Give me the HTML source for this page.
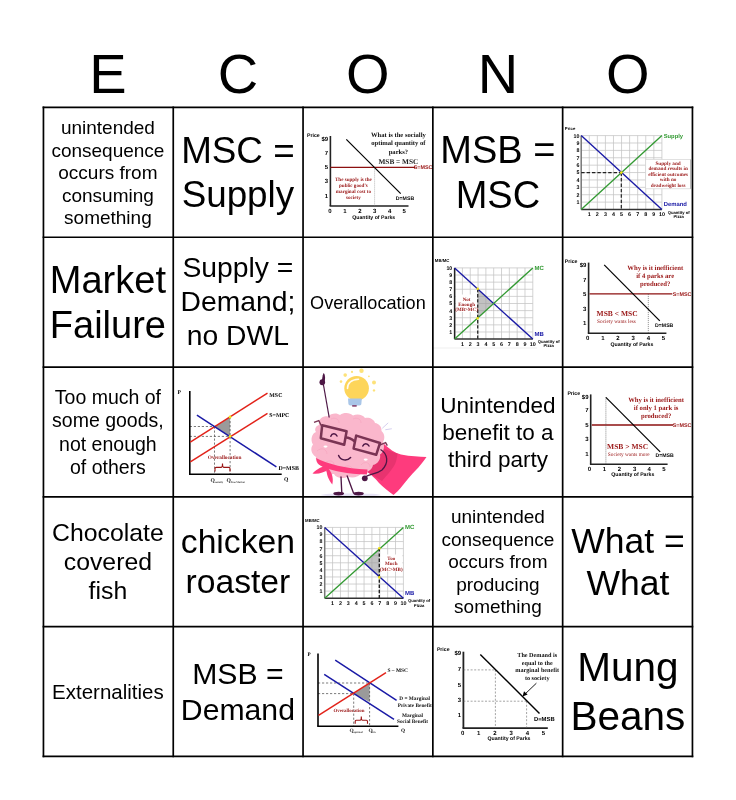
<!DOCTYPE html>
<html><head><meta charset="utf-8">
<style>
html,body{margin:0;padding:0;background:#fff;width:736px;height:800px;overflow:hidden;}
body{font-family:"Liberation Sans",sans-serif;color:#000;position:relative;}
.t{position:absolute;width:129.8px;text-align:center;white-space:nowrap;will-change:transform;}
svg{position:absolute;left:0;top:0;}
</style></head><body>
<div class="t" style="left:42.95px;top:44.39px;font-size:56px;line-height:60px;">E</div>
<div class="t" style="left:172.95px;top:44.39px;font-size:56px;line-height:60px;">C</div>
<div class="t" style="left:303.35px;top:44.39px;font-size:56px;line-height:60px;">O</div>
<div class="t" style="left:433.15px;top:44.39px;font-size:56px;line-height:60px;">N</div>
<div class="t" style="left:563.15px;top:44.39px;font-size:56px;line-height:60px;">O</div>
<div class="t" style="left:43.45px;top:116.76px;font-size:19px;line-height:22.5px;">unintended<br>consequence<br>occurs from<br>consuming<br>something</div>
<div class="t" style="left:173.25px;top:129.27px;font-size:36.8px;line-height:43.75px;">MSC =<br>Supply</div>
<div class="t" style="left:432.85px;top:128.48px;font-size:38px;line-height:44.9px;">MSB =<br>MSC</div>
<div class="t" style="left:43.45px;top:257.53px;font-size:38px;line-height:45px;">Market<br>Failure</div>
<div class="t" style="left:173.25px;top:251.04px;font-size:28.3px;line-height:33.9px;">Supply =<br>Demand;<br>no DWL</div>
<div class="t" style="left:303.05px;top:291.53px;font-size:18.1px;line-height:22px;">Overallocation</div>
<div class="t" style="left:43.45px;top:386.14px;font-size:19.5px;line-height:23.4px;">Too much of<br>some goods,<br>not enough<br>of others</div>
<div class="t" style="left:432.85px;top:393.27px;font-size:22.5px;line-height:26.85px;">Unintended<br>benefit to a<br>third party</div>
<div class="t" style="left:43.45px;top:517.90px;font-size:24.8px;line-height:29.2px;">Chocolate<br>covered<br>fish</div>
<div class="t" style="left:173.25px;top:521.07px;font-size:33.7px;line-height:40.1px;">chicken<br>roaster</div>
<div class="t" style="left:432.85px;top:505.66px;font-size:19px;line-height:22.5px;">unintended<br>consequence<br>occurs from<br>producing<br>something</div>
<div class="t" style="left:562.65px;top:519.79px;font-size:35.5px;line-height:42.4px;">What =<br>What</div>
<div class="t" style="left:43.45px;top:679.89px;font-size:20.5px;line-height:24px;">Externalities</div>
<div class="t" style="left:173.25px;top:655.68px;font-size:30.2px;line-height:36.3px;">MSB =<br>Demand</div>
<div class="t" style="left:562.65px;top:643.46px;font-size:40.5px;line-height:48.6px;">Mung<br>Beans</div>
<svg width="736" height="800" viewBox="0 0 736 800" font-family="Liberation Sans" text-rendering="geometricPrecision">
<g transform="translate(303,107)"><line x1="27.40" y1="29.00" x2="27.40" y2="99.00" stroke="#222" stroke-width="1.6" /><line x1="26.60" y1="99.00" x2="105.50" y2="99.00" stroke="#222" stroke-width="1.6" /><text x="25.20" y="33.90" font-size="6" text-anchor="end" font-weight="bold" fill="#000" font-family="Liberation Sans" >$9</text><text x="25.20" y="47.70" font-size="6" text-anchor="end" font-weight="bold" fill="#000" font-family="Liberation Sans" >7</text><text x="25.20" y="62.10" font-size="6" text-anchor="end" font-weight="bold" fill="#000" font-family="Liberation Sans" >5</text><text x="25.20" y="76.30" font-size="6" text-anchor="end" font-weight="bold" fill="#000" font-family="Liberation Sans" >3</text><text x="25.20" y="91.30" font-size="6" text-anchor="end" font-weight="bold" fill="#000" font-family="Liberation Sans" >1</text><text x="27.00" y="105.50" font-size="6" text-anchor="middle" font-weight="bold" fill="#000" font-family="Liberation Sans" >0</text><text x="41.90" y="105.50" font-size="6" text-anchor="middle" font-weight="bold" fill="#000" font-family="Liberation Sans" >1</text><text x="56.90" y="105.50" font-size="6" text-anchor="middle" font-weight="bold" fill="#000" font-family="Liberation Sans" >2</text><text x="71.60" y="105.50" font-size="6" text-anchor="middle" font-weight="bold" fill="#000" font-family="Liberation Sans" >3</text><text x="86.60" y="105.50" font-size="6" text-anchor="middle" font-weight="bold" fill="#000" font-family="Liberation Sans" >4</text><text x="101.20" y="105.50" font-size="6" text-anchor="middle" font-weight="bold" fill="#000" font-family="Liberation Sans" >5</text><text x="4.00" y="29.80" font-size="5.2" text-anchor="start" font-weight="bold" fill="#000" font-family="Liberation Sans" >Price</text><text x="70.70" y="112.20" font-size="5.2" text-anchor="middle" font-weight="bold" fill="#000" font-family="Liberation Sans" >Quantity of Parks</text><line x1="27.40" y1="60.40" x2="112.00" y2="60.40" stroke="#8c1010" stroke-width="1.3" /><text x="129.50" y="62.20" font-size="5.4" text-anchor="end" font-weight="bold" fill="#9a1616" font-family="Liberation Sans" >S=MSC</text><line x1="71.60" y1="60.40" x2="71.60" y2="99.00" stroke="#888" stroke-width="0.6" stroke-dasharray="1 1"/><line x1="43.30" y1="32.30" x2="97.70" y2="86.60" stroke="#000" stroke-width="1.2" /><text x="102.00" y="92.80" font-size="5.2" text-anchor="middle" font-weight="bold" fill="#000" font-family="Liberation Sans" >D=MSB</text><text x="95.40" y="30.30" font-size="6.6" text-anchor="middle" font-weight="bold" fill="#111" font-family="Liberation Serif" >What is the socially</text><text x="95.40" y="38.40" font-size="6.6" text-anchor="middle" font-weight="bold" fill="#111" font-family="Liberation Serif" >optimal quantity of</text><text x="95.40" y="46.50" font-size="6.6" text-anchor="middle" font-weight="bold" fill="#111" font-family="Liberation Serif" >parks?</text><text x="95.40" y="56.60" font-size="7.3" text-anchor="middle" font-weight="bold" fill="#222" font-family="Liberation Serif" >MSB = MSC</text><text x="50.40" y="73.80" font-size="5.1" text-anchor="middle" font-weight="bold" fill="#9a1616" font-family="Liberation Serif" >The supply is the</text><text x="50.40" y="80.00" font-size="5.1" text-anchor="middle" font-weight="bold" fill="#9a1616" font-family="Liberation Serif" >public good’s</text><text x="50.40" y="86.20" font-size="5.1" text-anchor="middle" font-weight="bold" fill="#9a1616" font-family="Liberation Serif" >marginal cost to</text><text x="50.40" y="92.40" font-size="5.1" text-anchor="middle" font-weight="bold" fill="#9a1616" font-family="Liberation Serif" >society</text></g><g transform="translate(563,107)"><line x1="26.27" y1="28.60" x2="26.27" y2="102.50" stroke="#c4c4c4" stroke-width="0.75" /><line x1="18.20" y1="28.60" x2="98.90" y2="28.60" stroke="#c4c4c4" stroke-width="0.75" /><line x1="34.34" y1="28.60" x2="34.34" y2="102.50" stroke="#c4c4c4" stroke-width="0.75" /><line x1="18.20" y1="35.99" x2="98.90" y2="35.99" stroke="#c4c4c4" stroke-width="0.75" /><line x1="42.41" y1="28.60" x2="42.41" y2="102.50" stroke="#c4c4c4" stroke-width="0.75" /><line x1="18.20" y1="43.38" x2="98.90" y2="43.38" stroke="#c4c4c4" stroke-width="0.75" /><line x1="50.48" y1="28.60" x2="50.48" y2="102.50" stroke="#c4c4c4" stroke-width="0.75" /><line x1="18.20" y1="50.77" x2="98.90" y2="50.77" stroke="#c4c4c4" stroke-width="0.75" /><line x1="58.55" y1="28.60" x2="58.55" y2="102.50" stroke="#c4c4c4" stroke-width="0.75" /><line x1="18.20" y1="58.16" x2="98.90" y2="58.16" stroke="#c4c4c4" stroke-width="0.75" /><line x1="66.62" y1="28.60" x2="66.62" y2="102.50" stroke="#c4c4c4" stroke-width="0.75" /><line x1="18.20" y1="65.55" x2="98.90" y2="65.55" stroke="#c4c4c4" stroke-width="0.75" /><line x1="74.69" y1="28.60" x2="74.69" y2="102.50" stroke="#c4c4c4" stroke-width="0.75" /><line x1="18.20" y1="72.94" x2="98.90" y2="72.94" stroke="#c4c4c4" stroke-width="0.75" /><line x1="82.76" y1="28.60" x2="82.76" y2="102.50" stroke="#c4c4c4" stroke-width="0.75" /><line x1="18.20" y1="80.33" x2="98.90" y2="80.33" stroke="#c4c4c4" stroke-width="0.75" /><line x1="90.83" y1="28.60" x2="90.83" y2="102.50" stroke="#c4c4c4" stroke-width="0.75" /><line x1="18.20" y1="87.72" x2="98.90" y2="87.72" stroke="#c4c4c4" stroke-width="0.75" /><line x1="98.90" y1="28.60" x2="98.90" y2="102.50" stroke="#c4c4c4" stroke-width="0.75" /><line x1="18.20" y1="95.11" x2="98.90" y2="95.11" stroke="#c4c4c4" stroke-width="0.75" /><line x1="18.20" y1="28.60" x2="18.20" y2="102.50" stroke="#777" stroke-width="1.5" /><line x1="18.20" y1="102.50" x2="98.90" y2="102.50" stroke="#333" stroke-width="1.5" /><text x="16.50" y="30.50" font-size="5.3" text-anchor="end" font-weight="bold" fill="#000" font-family="Liberation Sans" >10</text><text x="16.50" y="37.89" font-size="5.3" text-anchor="end" font-weight="bold" fill="#000" font-family="Liberation Sans" >9</text><text x="16.50" y="45.28" font-size="5.3" text-anchor="end" font-weight="bold" fill="#000" font-family="Liberation Sans" >8</text><text x="16.50" y="52.67" font-size="5.3" text-anchor="end" font-weight="bold" fill="#000" font-family="Liberation Sans" >7</text><text x="16.50" y="60.06" font-size="5.3" text-anchor="end" font-weight="bold" fill="#000" font-family="Liberation Sans" >6</text><text x="16.50" y="67.45" font-size="5.3" text-anchor="end" font-weight="bold" fill="#000" font-family="Liberation Sans" >5</text><text x="16.50" y="74.84" font-size="5.3" text-anchor="end" font-weight="bold" fill="#000" font-family="Liberation Sans" >4</text><text x="16.50" y="82.23" font-size="5.3" text-anchor="end" font-weight="bold" fill="#000" font-family="Liberation Sans" >3</text><text x="16.50" y="89.62" font-size="5.3" text-anchor="end" font-weight="bold" fill="#000" font-family="Liberation Sans" >2</text><text x="16.50" y="97.01" font-size="5.3" text-anchor="end" font-weight="bold" fill="#000" font-family="Liberation Sans" >1</text><text x="26.27" y="109.30" font-size="5.4" text-anchor="middle" font-weight="bold" fill="#000" font-family="Liberation Sans" >1</text><text x="34.34" y="109.30" font-size="5.4" text-anchor="middle" font-weight="bold" fill="#000" font-family="Liberation Sans" >2</text><text x="42.41" y="109.30" font-size="5.4" text-anchor="middle" font-weight="bold" fill="#000" font-family="Liberation Sans" >3</text><text x="50.48" y="109.30" font-size="5.4" text-anchor="middle" font-weight="bold" fill="#000" font-family="Liberation Sans" >4</text><text x="58.55" y="109.30" font-size="5.4" text-anchor="middle" font-weight="bold" fill="#000" font-family="Liberation Sans" >5</text><text x="66.62" y="109.30" font-size="5.4" text-anchor="middle" font-weight="bold" fill="#000" font-family="Liberation Sans" >6</text><text x="74.69" y="109.30" font-size="5.4" text-anchor="middle" font-weight="bold" fill="#000" font-family="Liberation Sans" >7</text><text x="82.76" y="109.30" font-size="5.4" text-anchor="middle" font-weight="bold" fill="#000" font-family="Liberation Sans" >8</text><text x="90.83" y="109.30" font-size="5.4" text-anchor="middle" font-weight="bold" fill="#000" font-family="Liberation Sans" >9</text><text x="98.90" y="109.30" font-size="5.4" text-anchor="middle" font-weight="bold" fill="#000" font-family="Liberation Sans" >10</text><text x="1.80" y="23.20" font-size="4.3" text-anchor="start" font-weight="bold" fill="#000" font-family="Liberation Sans" >Price</text><line x1="18.20" y1="28.60" x2="98.90" y2="102.50" stroke="#1a1aa6" stroke-width="1.4" /><line x1="18.20" y1="102.50" x2="98.90" y2="28.60" stroke="#339a33" stroke-width="1.35" /><line x1="18.20" y1="65.70" x2="58.30" y2="65.70" stroke="#222" stroke-width="1.2" stroke-dasharray="3.4 2"/><line x1="58.30" y1="65.70" x2="58.30" y2="102.50" stroke="#222" stroke-width="1.2" stroke-dasharray="3.4 2"/><circle cx="58.30" cy="65.60" r="1.4" fill="#f2e21a"/><text x="100.70" y="31.30" font-size="5.8" text-anchor="start" font-weight="bold" fill="#339a33" font-family="Liberation Sans" >Supply</text><text x="100.70" y="98.90" font-size="5.9" text-anchor="start" font-weight="bold" fill="#1a1aa6" font-family="Liberation Sans" >Demand</text><rect x="82.7" y="52.5" width="44.9" height="29.3" fill="#fff" stroke="#d4d4d4" stroke-width="0.7"/><line x1="127.60" y1="52.50" x2="127.60" y2="81.80" stroke="#aaa" stroke-width="0.8" /><text x="105.10" y="57.60" font-size="5.2" text-anchor="middle" font-weight="bold" fill="#9a1616" font-family="Liberation Serif" >Supply and</text><text x="105.10" y="63.20" font-size="5.2" text-anchor="middle" font-weight="bold" fill="#9a1616" font-family="Liberation Serif" >demand results in</text><text x="105.10" y="68.80" font-size="5.2" text-anchor="middle" font-weight="bold" fill="#9a1616" font-family="Liberation Serif" >efficient outcomes</text><text x="105.10" y="74.40" font-size="5.2" text-anchor="middle" font-weight="bold" fill="#9a1616" font-family="Liberation Serif" >with no</text><text x="105.10" y="80.00" font-size="5.2" text-anchor="middle" font-weight="bold" fill="#9a1616" font-family="Liberation Serif" >deadweight loss</text><text x="115.70" y="106.60" font-size="4.2" text-anchor="middle" font-weight="bold" fill="#000" font-family="Liberation Sans" >Quantity of</text><text x="115.70" y="111.00" font-size="4.2" text-anchor="middle" font-weight="bold" fill="#000" font-family="Liberation Sans" >Pizza</text></g><g transform="translate(433,237)"><line x1="29.42" y1="30.90" x2="29.42" y2="102.10" stroke="#c4c4c4" stroke-width="0.75" /><line x1="21.60" y1="30.90" x2="99.80" y2="30.90" stroke="#c4c4c4" stroke-width="0.75" /><line x1="37.24" y1="30.90" x2="37.24" y2="102.10" stroke="#c4c4c4" stroke-width="0.75" /><line x1="21.60" y1="38.02" x2="99.80" y2="38.02" stroke="#c4c4c4" stroke-width="0.75" /><line x1="45.06" y1="30.90" x2="45.06" y2="102.10" stroke="#c4c4c4" stroke-width="0.75" /><line x1="21.60" y1="45.14" x2="99.80" y2="45.14" stroke="#c4c4c4" stroke-width="0.75" /><line x1="52.88" y1="30.90" x2="52.88" y2="102.10" stroke="#c4c4c4" stroke-width="0.75" /><line x1="21.60" y1="52.26" x2="99.80" y2="52.26" stroke="#c4c4c4" stroke-width="0.75" /><line x1="60.70" y1="30.90" x2="60.70" y2="102.10" stroke="#c4c4c4" stroke-width="0.75" /><line x1="21.60" y1="59.38" x2="99.80" y2="59.38" stroke="#c4c4c4" stroke-width="0.75" /><line x1="68.52" y1="30.90" x2="68.52" y2="102.10" stroke="#c4c4c4" stroke-width="0.75" /><line x1="21.60" y1="66.50" x2="99.80" y2="66.50" stroke="#c4c4c4" stroke-width="0.75" /><line x1="76.34" y1="30.90" x2="76.34" y2="102.10" stroke="#c4c4c4" stroke-width="0.75" /><line x1="21.60" y1="73.62" x2="99.80" y2="73.62" stroke="#c4c4c4" stroke-width="0.75" /><line x1="84.16" y1="30.90" x2="84.16" y2="102.10" stroke="#c4c4c4" stroke-width="0.75" /><line x1="21.60" y1="80.74" x2="99.80" y2="80.74" stroke="#c4c4c4" stroke-width="0.75" /><line x1="91.98" y1="30.90" x2="91.98" y2="102.10" stroke="#c4c4c4" stroke-width="0.75" /><line x1="21.60" y1="87.86" x2="99.80" y2="87.86" stroke="#c4c4c4" stroke-width="0.75" /><line x1="99.80" y1="30.90" x2="99.80" y2="102.10" stroke="#c4c4c4" stroke-width="0.75" /><line x1="21.60" y1="94.98" x2="99.80" y2="94.98" stroke="#c4c4c4" stroke-width="0.75" /><line x1="21.60" y1="30.90" x2="21.60" y2="102.10" stroke="#777" stroke-width="1.5" /><line x1="21.60" y1="102.10" x2="99.80" y2="102.10" stroke="#333" stroke-width="1.5" /><text x="19.30" y="32.80" font-size="5.3" text-anchor="end" font-weight="bold" fill="#000" font-family="Liberation Sans" >10</text><text x="19.30" y="39.92" font-size="5.3" text-anchor="end" font-weight="bold" fill="#000" font-family="Liberation Sans" >9</text><text x="19.30" y="47.04" font-size="5.3" text-anchor="end" font-weight="bold" fill="#000" font-family="Liberation Sans" >8</text><text x="19.30" y="54.16" font-size="5.3" text-anchor="end" font-weight="bold" fill="#000" font-family="Liberation Sans" >7</text><text x="19.30" y="61.28" font-size="5.3" text-anchor="end" font-weight="bold" fill="#000" font-family="Liberation Sans" >6</text><text x="19.30" y="68.40" font-size="5.3" text-anchor="end" font-weight="bold" fill="#000" font-family="Liberation Sans" >5</text><text x="19.30" y="75.52" font-size="5.3" text-anchor="end" font-weight="bold" fill="#000" font-family="Liberation Sans" >4</text><text x="19.30" y="82.64" font-size="5.3" text-anchor="end" font-weight="bold" fill="#000" font-family="Liberation Sans" >3</text><text x="19.30" y="89.76" font-size="5.3" text-anchor="end" font-weight="bold" fill="#000" font-family="Liberation Sans" >2</text><text x="19.30" y="96.88" font-size="5.3" text-anchor="end" font-weight="bold" fill="#000" font-family="Liberation Sans" >1</text><text x="29.42" y="108.80" font-size="5.4" text-anchor="middle" font-weight="bold" fill="#000" font-family="Liberation Sans" >1</text><text x="37.24" y="108.80" font-size="5.4" text-anchor="middle" font-weight="bold" fill="#000" font-family="Liberation Sans" >2</text><text x="45.06" y="108.80" font-size="5.4" text-anchor="middle" font-weight="bold" fill="#000" font-family="Liberation Sans" >3</text><text x="52.88" y="108.80" font-size="5.4" text-anchor="middle" font-weight="bold" fill="#000" font-family="Liberation Sans" >4</text><text x="60.70" y="108.80" font-size="5.4" text-anchor="middle" font-weight="bold" fill="#000" font-family="Liberation Sans" >5</text><text x="68.52" y="108.80" font-size="5.4" text-anchor="middle" font-weight="bold" fill="#000" font-family="Liberation Sans" >6</text><text x="76.34" y="108.80" font-size="5.4" text-anchor="middle" font-weight="bold" fill="#000" font-family="Liberation Sans" >7</text><text x="84.16" y="108.80" font-size="5.4" text-anchor="middle" font-weight="bold" fill="#000" font-family="Liberation Sans" >8</text><text x="91.98" y="108.80" font-size="5.4" text-anchor="middle" font-weight="bold" fill="#000" font-family="Liberation Sans" >9</text><text x="99.80" y="108.80" font-size="5.4" text-anchor="middle" font-weight="bold" fill="#000" font-family="Liberation Sans" >10</text><text x="1.80" y="24.90" font-size="4.3" text-anchor="start" font-weight="bold" fill="#000" font-family="Liberation Sans" >MB/MC</text><line x1="21.60" y1="30.90" x2="21.60" y2="102.10" stroke="#222" stroke-width="1.3" /><polygon points="44.70,51.80 44.70,81.30 60.60,66.60" fill="#999"  fill-opacity="0.6"/><rect x="23" y="57.5" width="21" height="17.5" fill="#fff"/><line x1="21.60" y1="30.90" x2="99.80" y2="102.10" stroke="#1a1aa6" stroke-width="1.4" /><line x1="21.60" y1="102.10" x2="99.80" y2="30.90" stroke="#339a33" stroke-width="1.35" /><line x1="44.70" y1="51.80" x2="44.70" y2="102.10" stroke="#333" stroke-width="1.4" stroke-dasharray="3.4 1.8"/><circle cx="44.70" cy="51.80" r="1.3" fill="#f2e21a"/><circle cx="44.70" cy="81.30" r="1.3" fill="#f2e21a"/><text x="33.60" y="63.50" font-size="5.0" text-anchor="middle" font-weight="bold" fill="#9a1616" font-family="Liberation Serif" >Not</text><text x="33.60" y="68.80" font-size="5.0" text-anchor="middle" font-weight="bold" fill="#9a1616" font-family="Liberation Serif" >Enough</text><text x="33.60" y="74.10" font-size="5.0" text-anchor="middle" font-weight="bold" fill="#9a1616" font-family="Liberation Serif" >(MB&gt;MC)</text><text x="101.60" y="33.40" font-size="6" text-anchor="start" font-weight="bold" fill="#339a33" font-family="Liberation Sans" >MC</text><text x="101.60" y="98.80" font-size="6" text-anchor="start" font-weight="bold" fill="#1a1aa6" font-family="Liberation Sans" >MB</text><text x="115.70" y="105.60" font-size="4.2" text-anchor="middle" font-weight="bold" fill="#000" font-family="Liberation Sans" >Quantity of</text><text x="115.70" y="110.40" font-size="4.2" text-anchor="middle" font-weight="bold" fill="#000" font-family="Liberation Sans" >Pizza</text><line x1="0.00" y1="111.00" x2="104.00" y2="111.00" stroke="#e4e4e4" stroke-width="0.6" /></g><g transform="translate(563,237)"><line x1="25.60" y1="25.60" x2="25.60" y2="96.30" stroke="#222" stroke-width="1.6" /><line x1="24.80" y1="96.30" x2="103.40" y2="96.30" stroke="#222" stroke-width="1.6" /><text x="23.40" y="30.00" font-size="6" text-anchor="end" font-weight="bold" fill="#000" font-family="Liberation Sans" >$9</text><text x="23.40" y="44.50" font-size="6" text-anchor="end" font-weight="bold" fill="#000" font-family="Liberation Sans" >7</text><text x="23.40" y="59.00" font-size="6" text-anchor="end" font-weight="bold" fill="#000" font-family="Liberation Sans" >5</text><text x="23.40" y="73.70" font-size="6" text-anchor="end" font-weight="bold" fill="#000" font-family="Liberation Sans" >3</text><text x="23.40" y="88.10" font-size="6" text-anchor="end" font-weight="bold" fill="#000" font-family="Liberation Sans" >1</text><text x="24.70" y="103.10" font-size="6" text-anchor="middle" font-weight="bold" fill="#000" font-family="Liberation Sans" >0</text><text x="39.80" y="103.10" font-size="6" text-anchor="middle" font-weight="bold" fill="#000" font-family="Liberation Sans" >1</text><text x="54.80" y="103.10" font-size="6" text-anchor="middle" font-weight="bold" fill="#000" font-family="Liberation Sans" >2</text><text x="70.10" y="103.10" font-size="6" text-anchor="middle" font-weight="bold" fill="#000" font-family="Liberation Sans" >3</text><text x="85.30" y="103.10" font-size="6" text-anchor="middle" font-weight="bold" fill="#000" font-family="Liberation Sans" >4</text><text x="100.40" y="103.10" font-size="6" text-anchor="middle" font-weight="bold" fill="#000" font-family="Liberation Sans" >5</text><text x="1.80" y="25.70" font-size="5.2" text-anchor="start" font-weight="bold" fill="#000" font-family="Liberation Sans" >Price</text><text x="68.90" y="109.00" font-size="5.2" text-anchor="middle" font-weight="bold" fill="#000" font-family="Liberation Sans" >Quantity of Parks</text><line x1="26.50" y1="56.90" x2="109.30" y2="56.90" stroke="#8c1010" stroke-width="1.3" /><text x="128.50" y="58.80" font-size="5.4" text-anchor="end" font-weight="bold" fill="#9a1616" font-family="Liberation Sans" >S=MSC</text><line x1="85.30" y1="56.90" x2="85.30" y2="96.30" stroke="#555" stroke-width="0.7" stroke-dasharray="1 1"/><line x1="41.20" y1="27.90" x2="96.80" y2="83.90" stroke="#000" stroke-width="1.2" /><text x="101.20" y="89.80" font-size="5.2" text-anchor="middle" font-weight="bold" fill="#000" font-family="Liberation Sans" >D=MSB</text><text x="92.20" y="32.90" font-size="6.7" text-anchor="middle" font-weight="bold" fill="#9a1616" font-family="Liberation Serif" >Why is it inefficient</text><text x="92.20" y="41.10" font-size="6.7" text-anchor="middle" font-weight="bold" fill="#9a1616" font-family="Liberation Serif" >if 4 parks are</text><text x="92.20" y="49.30" font-size="6.7" text-anchor="middle" font-weight="bold" fill="#9a1616" font-family="Liberation Serif" >produced?</text><text x="54.10" y="79.20" font-size="7.5" text-anchor="middle" font-weight="bold" fill="#9a1616" font-family="Liberation Serif" >MSB &lt; MSC</text><text x="53.50" y="86.40" font-size="5.3" text-anchor="middle" font-weight="normal" fill="#9a1616" font-family="Liberation Serif" >Society wants less</text></g><g transform="translate(173,367)"><polygon points="41.50,59.50 57.10,50.00 57.10,69.40" fill="#9a9a9a" /><line x1="16.80" y1="59.50" x2="41.50" y2="59.50" stroke="#444" stroke-width="0.7" stroke-dasharray="2.2 1.8"/><line x1="16.80" y1="69.40" x2="57.10" y2="69.40" stroke="#444" stroke-width="0.7" stroke-dasharray="2.2 1.8"/><line x1="41.50" y1="59.50" x2="41.50" y2="107.20" stroke="#444" stroke-width="0.7" stroke-dasharray="2.2 1.8"/><line x1="57.10" y1="50.00" x2="57.10" y2="107.20" stroke="#444" stroke-width="0.7" stroke-dasharray="2.2 1.8"/><line x1="16.80" y1="23.90" x2="16.80" y2="107.20" stroke="#000" stroke-width="1.6" /><line x1="16.00" y1="107.20" x2="108.70" y2="107.20" stroke="#000" stroke-width="1.6" /><line x1="17.30" y1="75.10" x2="94.50" y2="26.10" stroke="#e2231a" stroke-width="1.5" /><line x1="17.30" y1="94.90" x2="94.50" y2="46.30" stroke="#e2231a" stroke-width="1.5" /><line x1="23.90" y1="48.10" x2="103.40" y2="99.80" stroke="#1a1aa6" stroke-width="1.5" /><circle cx="57.10" cy="50.00" r="1.4" fill="#f2e21a"/><circle cx="57.10" cy="69.40" r="1.4" fill="#f2e21a"/><text x="4.40" y="26.60" font-size="5.6" text-anchor="start" font-weight="bold" fill="#000" font-family="Liberation Serif" >P</text><text x="111.00" y="114.20" font-size="5.6" text-anchor="start" font-weight="bold" fill="#000" font-family="Liberation Serif" >Q</text><text x="96.30" y="30.20" font-size="5.9" text-anchor="start" font-weight="bold" fill="#000" font-family="Liberation Serif" >MSC</text><text x="96.30" y="50.00" font-size="5.9" text-anchor="start" font-weight="bold" fill="#000" font-family="Liberation Serif" >S=MPC</text><text x="105.50" y="103.30" font-size="5.9" text-anchor="start" font-weight="bold" fill="#000" font-family="Liberation Serif" >D=MSB</text><text x="51.60" y="92.30" font-size="5.3" text-anchor="middle" font-weight="bold" fill="#9a1616" font-family="Liberation Serif" >Overallocation</text><path d="M42,104.6 L42,101.6 Q42,100.4 43.2,100.4 L48.3,100.4 Q49.5,100.4 49.5,96.6 Q49.5,100.4 50.7,100.4 L55.8,100.4 Q57,100.4 57,101.6 L57,104.6" fill="none" stroke="#9a1616" stroke-width="1.1"/><text x="37.60" y="114.60" font-size="5.6" text-anchor="start" font-weight="bold" fill="#222" font-family="Liberation Serif" >Q</text><text x="41.80" y="115.60" font-size="2.6" text-anchor="start" font-weight="bold" fill="#333" font-family="Liberation Serif" >socially</text><text x="53.50" y="114.60" font-size="5.6" text-anchor="start" font-weight="bold" fill="#222" font-family="Liberation Serif" >Q</text><text x="57.70" y="115.60" font-size="2.6" text-anchor="start" font-weight="bold" fill="#333" font-family="Liberation Serif" >Free Market</text></g><g transform="translate(303,367)"><ellipse cx="48" cy="128" rx="30" ry="1.6" fill="#e6e2f4"/><path d="M80,76 C86,82 92,86 98,87.5 C108,89.5 116,89.5 123.5,90 C120,95 116,100 113,103 C108,108 104,113 100,118 C96,123 93,126 90.5,128 C85,124 80,120 76,116 C72,111 68,108 64,104 Z" fill="#fe3b7d"/><path d="M78,80 C84,83 90,85.5 94.5,86.5 C94,91 93,96 91,99 C88,104 84,108 79,114 C74,111 69,108 64,105 C70,98 75,90 78,80 Z" fill="#e8336f"/><path d="M16,58 C15,52 20,48 25,49.5 C28,46 34,45.5 37,48 C41,45 47,45.5 50,48.5 C54,46.5 60,47.5 62,51 C66,50 71,52 72,56 C76,56.5 79,60 78.5,64 C82,67 82,72 80,75 C82,79 81,85 77,87.5 C78,92 75,97 70,98 C69,103 64,106 59,105.5 C56,110 49,112 45,109.5 C40,112.5 33,111 31,107 C26,108 21,104 21,100 C16,99 12,95 13,90 C8,87 7,81 10,77.5 C7,73 9,66 13,65 C11,62 13,59 16,58 Z" fill="#fab7cc"/><g fill="none" stroke="#f6a6c0" stroke-width="0.9" opacity="0.8"><path d="M14,84 C18,80 24,82 24,87"/><path d="M22,96 C26,92 32,94 31,99"/><path d="M40,101 C44,97 50,99 50,104"/><path d="M58,98 C61,94 67,95 67,100"/><path d="M28,52 C32,50 36,52 36,56"/><path d="M50,52 C54,50 58,52 58,56"/></g><path d="M13,91 C25,97 42,101.5 64.5,102.5 L64,107.5 C44,107 30,104 20,100 C17,98.5 15,97 14,95 Z" fill="#fe3b7d"/><path d="M25,98.5 C20,99 14,101.5 9.5,106.5 C15,107.5 21,105.5 25.5,102.5 Z" fill="#fe3b7d"/><path d="M23.5,100 C28,103 31,110 29.3,117.5 C25.5,113 23,107 23.5,100 Z" fill="#fe3b7d"/><g stroke="#4d1745" stroke-width="1.35" fill="none" stroke-linecap="round"><path d="M38,110 L38.8,126"/><path d="M44.2,109 L50.5,126"/></g><ellipse cx="35.7" cy="126.6" rx="5.4" ry="1.9" fill="#4d1745"/><ellipse cx="55.6" cy="126.6" rx="5.2" ry="1.9" fill="#4d1745"/><path d="M77.5,82.5 C85,87 86,96 79,103 C74,107 68,106.5 62,110" fill="none" stroke="#4d1745" stroke-width="1.3"/><circle cx="61.8" cy="111.3" r="2.9" fill="#4d1745"/><path d="M26.2,50.5 L20.4,17.5" stroke="#4d1745" stroke-width="1.2"/><ellipse cx="19.3" cy="15.2" rx="2.8" ry="3" fill="#4d1745"/><path d="M18.8,14 C19.5,9 20,6.5 20.8,6 C22.4,8 22.4,12 21.5,15 Z" fill="#4d1745"/><g fill="none" stroke="#7a3454" stroke-width="2.5" stroke-linejoin="round"><path d="M19.2,58.2 L43.6,64.2 L41.2,77.8 L17.8,71.2 Z"/><path d="M53.2,68.6 L77,76 L73.2,87.8 L50.6,81.6 Z"/><path d="M43,70.6 C46,70.5 48.5,72 51.8,74.5"/></g><path d="M19.5,61 L15.8,53.6 L11,55.4" fill="none" stroke="#7a3656" stroke-width="1.4"/><path d="M76,78.3 L82.6,75.6 L84.3,78.7" fill="none" stroke="#7a3656" stroke-width="1.4"/><g fill="none" stroke="#4d1745" stroke-width="1.5" stroke-linecap="round"><path d="M27.8,69.3 C29,66.2 32.5,66 34,69"/><path d="M59.8,79 C61,76 64.5,76 66,79"/><path d="M35.6,88.5 C37.5,93.5 44,94.5 47.6,90.5"/></g><ellipse cx="22.5" cy="79.6" rx="2" ry="1.1" fill="#fff"/><ellipse cx="62.7" cy="92.6" rx="2" ry="1.1" fill="#fff"/><g stroke="#c9c2ea" stroke-width="0.8" stroke-linecap="round"><path d="M79.6,61 L84.9,56.1"/><path d="M82.7,62.7 L88.4,61.8"/></g><circle cx="53.6" cy="21.2" r="12.3" fill="#fdd55a"/><path d="M44.5,21.5 C44.5,16 49,12.8 55.5,12.3" fill="none" stroke="#fff" stroke-width="1.6" stroke-linecap="round" opacity="0.9"/><path d="M45,31.5 L58.8,31.5 L58.4,36.8 C58.2,38 57.6,38.4 56.5,38.4 L47.3,38.4 C46.2,38.4 45.6,38 45.4,36.8 Z" fill="#a9c6e8"/><rect x="49" y="38" width="4.9" height="1.8" rx="0.8" fill="#8a4f78"/><g fill="#fde27a"><circle cx="42.2" cy="8.1" r="1.8"/><circle cx="49" cy="4.9" r="1.1"/><circle cx="58.5" cy="3.7" r="2.2"/><circle cx="38" cy="14.6" r="1.3"/><circle cx="71" cy="15.5" r="2"/><circle cx="71" cy="23.4" r="1.2"/><circle cx="65.9" cy="9.3" r="0.9"/></g></g><g transform="translate(563,367)"><line x1="27.70" y1="27.40" x2="27.70" y2="97.20" stroke="#222" stroke-width="1.6" /><line x1="26.90" y1="97.20" x2="104.60" y2="97.20" stroke="#222" stroke-width="1.6" /><text x="25.50" y="32.10" font-size="6" text-anchor="end" font-weight="bold" fill="#000" font-family="Liberation Sans" >$9</text><text x="25.50" y="45.40" font-size="6" text-anchor="end" font-weight="bold" fill="#000" font-family="Liberation Sans" >7</text><text x="25.50" y="60.10" font-size="6" text-anchor="end" font-weight="bold" fill="#000" font-family="Liberation Sans" >5</text><text x="25.50" y="74.20" font-size="6" text-anchor="end" font-weight="bold" fill="#000" font-family="Liberation Sans" >3</text><text x="25.50" y="88.70" font-size="6" text-anchor="end" font-weight="bold" fill="#000" font-family="Liberation Sans" >1</text><text x="26.50" y="103.70" font-size="6" text-anchor="middle" font-weight="bold" fill="#000" font-family="Liberation Sans" >0</text><text x="41.50" y="103.70" font-size="6" text-anchor="middle" font-weight="bold" fill="#000" font-family="Liberation Sans" >1</text><text x="56.50" y="103.70" font-size="6" text-anchor="middle" font-weight="bold" fill="#000" font-family="Liberation Sans" >2</text><text x="71.60" y="103.70" font-size="6" text-anchor="middle" font-weight="bold" fill="#000" font-family="Liberation Sans" >3</text><text x="86.20" y="103.70" font-size="6" text-anchor="middle" font-weight="bold" fill="#000" font-family="Liberation Sans" >4</text><text x="101.00" y="103.70" font-size="6" text-anchor="middle" font-weight="bold" fill="#000" font-family="Liberation Sans" >5</text><text x="4.40" y="27.90" font-size="5.2" text-anchor="start" font-weight="bold" fill="#000" font-family="Liberation Sans" >Price</text><text x="69.80" y="109.00" font-size="5.2" text-anchor="middle" font-weight="bold" fill="#000" font-family="Liberation Sans" >Quantity of Parks</text><line x1="28.80" y1="58.00" x2="110.20" y2="58.00" stroke="#8c1010" stroke-width="1.3" /><text x="128.50" y="59.90" font-size="5.4" text-anchor="end" font-weight="bold" fill="#9a1616" font-family="Liberation Sans" >S=MSC</text><line x1="42.90" y1="30.40" x2="42.90" y2="97.20" stroke="#555" stroke-width="0.7" stroke-dasharray="1 1"/><line x1="42.90" y1="30.40" x2="97.20" y2="84.80" stroke="#000" stroke-width="1.2" /><text x="101.60" y="90.30" font-size="5.2" text-anchor="middle" font-weight="bold" fill="#000" font-family="Liberation Sans" >D=MSB</text><text x="93.10" y="34.70" font-size="6.7" text-anchor="middle" font-weight="bold" fill="#9a1616" font-family="Liberation Serif" >Why is it inefficient</text><text x="93.10" y="42.90" font-size="6.7" text-anchor="middle" font-weight="bold" fill="#9a1616" font-family="Liberation Serif" >if only 1 park is</text><text x="93.10" y="51.10" font-size="6.7" text-anchor="middle" font-weight="bold" fill="#9a1616" font-family="Liberation Serif" >produced?</text><text x="64.60" y="82.20" font-size="7.5" text-anchor="middle" font-weight="bold" fill="#9a1616" font-family="Liberation Serif" >MSB &gt; MSC</text><text x="65.70" y="89.00" font-size="5.3" text-anchor="middle" font-weight="normal" fill="#9a1616" font-family="Liberation Serif" >Society wants more</text></g><g transform="translate(303,497)"><line x1="29.57" y1="30.40" x2="29.57" y2="101.20" stroke="#c4c4c4" stroke-width="0.75" /><line x1="21.70" y1="30.40" x2="100.40" y2="30.40" stroke="#c4c4c4" stroke-width="0.75" /><line x1="37.44" y1="30.40" x2="37.44" y2="101.20" stroke="#c4c4c4" stroke-width="0.75" /><line x1="21.70" y1="37.48" x2="100.40" y2="37.48" stroke="#c4c4c4" stroke-width="0.75" /><line x1="45.31" y1="30.40" x2="45.31" y2="101.20" stroke="#c4c4c4" stroke-width="0.75" /><line x1="21.70" y1="44.56" x2="100.40" y2="44.56" stroke="#c4c4c4" stroke-width="0.75" /><line x1="53.18" y1="30.40" x2="53.18" y2="101.20" stroke="#c4c4c4" stroke-width="0.75" /><line x1="21.70" y1="51.64" x2="100.40" y2="51.64" stroke="#c4c4c4" stroke-width="0.75" /><line x1="61.05" y1="30.40" x2="61.05" y2="101.20" stroke="#c4c4c4" stroke-width="0.75" /><line x1="21.70" y1="58.72" x2="100.40" y2="58.72" stroke="#c4c4c4" stroke-width="0.75" /><line x1="68.92" y1="30.40" x2="68.92" y2="101.20" stroke="#c4c4c4" stroke-width="0.75" /><line x1="21.70" y1="65.80" x2="100.40" y2="65.80" stroke="#c4c4c4" stroke-width="0.75" /><line x1="76.79" y1="30.40" x2="76.79" y2="101.20" stroke="#c4c4c4" stroke-width="0.75" /><line x1="21.70" y1="72.88" x2="100.40" y2="72.88" stroke="#c4c4c4" stroke-width="0.75" /><line x1="84.66" y1="30.40" x2="84.66" y2="101.20" stroke="#c4c4c4" stroke-width="0.75" /><line x1="21.70" y1="79.96" x2="100.40" y2="79.96" stroke="#c4c4c4" stroke-width="0.75" /><line x1="92.53" y1="30.40" x2="92.53" y2="101.20" stroke="#c4c4c4" stroke-width="0.75" /><line x1="21.70" y1="87.04" x2="100.40" y2="87.04" stroke="#c4c4c4" stroke-width="0.75" /><line x1="100.40" y1="30.40" x2="100.40" y2="101.20" stroke="#c4c4c4" stroke-width="0.75" /><line x1="21.70" y1="94.12" x2="100.40" y2="94.12" stroke="#c4c4c4" stroke-width="0.75" /><line x1="21.70" y1="30.40" x2="21.70" y2="101.20" stroke="#777" stroke-width="1.5" /><line x1="21.70" y1="101.20" x2="100.40" y2="101.20" stroke="#333" stroke-width="1.5" /><text x="19.50" y="32.30" font-size="5.3" text-anchor="end" font-weight="bold" fill="#000" font-family="Liberation Sans" >10</text><text x="19.50" y="39.38" font-size="5.3" text-anchor="end" font-weight="bold" fill="#000" font-family="Liberation Sans" >9</text><text x="19.50" y="46.46" font-size="5.3" text-anchor="end" font-weight="bold" fill="#000" font-family="Liberation Sans" >8</text><text x="19.50" y="53.54" font-size="5.3" text-anchor="end" font-weight="bold" fill="#000" font-family="Liberation Sans" >7</text><text x="19.50" y="60.62" font-size="5.3" text-anchor="end" font-weight="bold" fill="#000" font-family="Liberation Sans" >6</text><text x="19.50" y="67.70" font-size="5.3" text-anchor="end" font-weight="bold" fill="#000" font-family="Liberation Sans" >5</text><text x="19.50" y="74.78" font-size="5.3" text-anchor="end" font-weight="bold" fill="#000" font-family="Liberation Sans" >4</text><text x="19.50" y="81.86" font-size="5.3" text-anchor="end" font-weight="bold" fill="#000" font-family="Liberation Sans" >3</text><text x="19.50" y="88.94" font-size="5.3" text-anchor="end" font-weight="bold" fill="#000" font-family="Liberation Sans" >2</text><text x="19.50" y="96.02" font-size="5.3" text-anchor="end" font-weight="bold" fill="#000" font-family="Liberation Sans" >1</text><text x="29.57" y="107.90" font-size="5.4" text-anchor="middle" font-weight="bold" fill="#000" font-family="Liberation Sans" >1</text><text x="37.44" y="107.90" font-size="5.4" text-anchor="middle" font-weight="bold" fill="#000" font-family="Liberation Sans" >2</text><text x="45.31" y="107.90" font-size="5.4" text-anchor="middle" font-weight="bold" fill="#000" font-family="Liberation Sans" >3</text><text x="53.18" y="107.90" font-size="5.4" text-anchor="middle" font-weight="bold" fill="#000" font-family="Liberation Sans" >4</text><text x="61.05" y="107.90" font-size="5.4" text-anchor="middle" font-weight="bold" fill="#000" font-family="Liberation Sans" >5</text><text x="68.92" y="107.90" font-size="5.4" text-anchor="middle" font-weight="bold" fill="#000" font-family="Liberation Sans" >6</text><text x="76.79" y="107.90" font-size="5.4" text-anchor="middle" font-weight="bold" fill="#000" font-family="Liberation Sans" >7</text><text x="84.66" y="107.90" font-size="5.4" text-anchor="middle" font-weight="bold" fill="#000" font-family="Liberation Sans" >8</text><text x="92.53" y="107.90" font-size="5.4" text-anchor="middle" font-weight="bold" fill="#000" font-family="Liberation Sans" >9</text><text x="100.40" y="107.90" font-size="5.4" text-anchor="middle" font-weight="bold" fill="#000" font-family="Liberation Sans" >10</text><text x="2.10" y="24.60" font-size="4.3" text-anchor="start" font-weight="bold" fill="#000" font-family="Liberation Sans" >MB/MC</text><polygon points="60.60,65.90 76.30,51.20 76.30,80.40" fill="#999"  fill-opacity="0.6"/><rect x="77.3" y="57.5" width="22" height="17" fill="#fff"/><line x1="21.70" y1="30.40" x2="100.40" y2="101.20" stroke="#1a1aa6" stroke-width="1.4" /><line x1="21.70" y1="101.20" x2="100.40" y2="30.40" stroke="#339a33" stroke-width="1.35" /><line x1="76.30" y1="51.20" x2="76.30" y2="101.20" stroke="#222" stroke-width="1.4" stroke-dasharray="3.4 1.8"/><circle cx="76.30" cy="51.20" r="1.3" fill="#f2e21a"/><circle cx="76.30" cy="80.40" r="1.3" fill="#f2e21a"/><text x="88.30" y="62.70" font-size="5.0" text-anchor="middle" font-weight="bold" fill="#9a1616" font-family="Liberation Serif" >Too</text><text x="88.30" y="68.10" font-size="5.0" text-anchor="middle" font-weight="bold" fill="#9a1616" font-family="Liberation Serif" >Much</text><text x="88.30" y="73.50" font-size="5.0" text-anchor="middle" font-weight="bold" fill="#9a1616" font-family="Liberation Serif" >(MC&gt;MB)</text><text x="102.10" y="32.40" font-size="6" text-anchor="start" font-weight="bold" fill="#339a33" font-family="Liberation Sans" >MC</text><text x="102.10" y="97.90" font-size="6" text-anchor="start" font-weight="bold" fill="#1a1aa6" font-family="Liberation Sans" >MB</text><text x="116.10" y="104.50" font-size="4.2" text-anchor="middle" font-weight="bold" fill="#000" font-family="Liberation Sans" >Quantity of</text><text x="116.10" y="109.50" font-size="4.2" text-anchor="middle" font-weight="bold" fill="#000" font-family="Liberation Sans" >Pizza</text></g><g transform="translate(303,627)"><polygon points="50.70,66.60 66.60,56.00 66.60,75.10" fill="#9a9a9a" /><line x1="15.00" y1="56.00" x2="66.60" y2="56.00" stroke="#444" stroke-width="0.7" stroke-dasharray="2.2 1.8"/><line x1="15.00" y1="66.60" x2="50.70" y2="66.60" stroke="#444" stroke-width="0.7" stroke-dasharray="2.2 1.8"/><line x1="50.70" y1="66.60" x2="50.70" y2="99.30" stroke="#444" stroke-width="0.7" stroke-dasharray="2.2 1.8"/><line x1="66.60" y1="56.00" x2="66.60" y2="99.30" stroke="#444" stroke-width="0.7" stroke-dasharray="2.2 1.8"/><line x1="15.00" y1="26.50" x2="15.00" y2="99.30" stroke="#000" stroke-width="1.6" /><line x1="14.20" y1="99.30" x2="95.40" y2="99.30" stroke="#000" stroke-width="1.6" /><line x1="32.20" y1="33.20" x2="93.60" y2="73.30" stroke="#1a1aa6" stroke-width="1.5" /><line x1="21.20" y1="47.30" x2="91.00" y2="92.40" stroke="#1a1aa6" stroke-width="1.5" /><line x1="15.50" y1="88.30" x2="83.00" y2="45.60" stroke="#e2231a" stroke-width="1.5" /><text x="4.40" y="29.20" font-size="5.2" text-anchor="start" font-weight="bold" fill="#000" font-family="Liberation Serif" >P</text><text x="98.00" y="105.20" font-size="5.2" text-anchor="start" font-weight="bold" fill="#000" font-family="Liberation Serif" >Q</text><text x="84.50" y="45.20" font-size="5.4" text-anchor="start" font-weight="bold" fill="#000" font-family="Liberation Serif" >S – MSC</text><text x="46.00" y="85.40" font-size="4.9" text-anchor="middle" font-weight="bold" fill="#9a1616" font-family="Liberation Serif" >Overallocation</text><path d="M52.2,96.8 L52.2,94.3 Q52.2,93.3 53.2,93.3 L57.2,93.3 Q58.3,93.3 58.3,89.6 Q58.3,93.3 59.4,93.3 L63.4,93.3 Q64.5,93.3 64.5,94.3 L64.5,96.8" fill="none" stroke="#9a1616" stroke-width="1.1"/><text x="111.70" y="73.40" font-size="5.3" text-anchor="middle" font-weight="bold" fill="#111" font-family="Liberation Serif" >D = Marginal</text><text x="111.70" y="79.60" font-size="5.3" text-anchor="middle" font-weight="bold" fill="#111" font-family="Liberation Serif" >Private Benefit</text><text x="109.50" y="89.60" font-size="5.3" text-anchor="middle" font-weight="bold" fill="#111" font-family="Liberation Serif" >Marginal</text><text x="109.50" y="96.40" font-size="5.3" text-anchor="middle" font-weight="bold" fill="#111" font-family="Liberation Serif" >Social Benefit</text><text x="46.50" y="105.40" font-size="5.4" text-anchor="start" font-weight="bold" fill="#222" font-family="Liberation Serif" >Q</text><text x="50.40" y="106.40" font-size="2.8" text-anchor="start" font-weight="bold" fill="#333" font-family="Liberation Serif" >optimal</text><text x="65.40" y="105.40" font-size="5.4" text-anchor="start" font-weight="bold" fill="#222" font-family="Liberation Serif" >Q</text><text x="69.30" y="106.40" font-size="2.8" text-anchor="start" font-weight="bold" fill="#333" font-family="Liberation Serif" >fm</text></g><g transform="translate(433,627)"><line x1="30.40" y1="24.70" x2="30.40" y2="101.10" stroke="#222" stroke-width="1.8" /><line x1="29.50" y1="101.10" x2="114.80" y2="101.10" stroke="#222" stroke-width="1.8" /><text x="28.20" y="28.20" font-size="6.0" text-anchor="end" font-weight="bold" fill="#000" font-family="Liberation Sans" >$9</text><text x="28.20" y="43.60" font-size="6.0" text-anchor="end" font-weight="bold" fill="#000" font-family="Liberation Sans" >7</text><text x="28.20" y="59.50" font-size="6.0" text-anchor="end" font-weight="bold" fill="#000" font-family="Liberation Sans" >5</text><text x="28.20" y="75.40" font-size="6.0" text-anchor="end" font-weight="bold" fill="#000" font-family="Liberation Sans" >3</text><text x="28.20" y="90.40" font-size="6.0" text-anchor="end" font-weight="bold" fill="#000" font-family="Liberation Sans" >1</text><text x="29.70" y="107.60" font-size="6.0" text-anchor="middle" font-weight="bold" fill="#000" font-family="Liberation Sans" >0</text><text x="45.60" y="107.60" font-size="6.0" text-anchor="middle" font-weight="bold" fill="#000" font-family="Liberation Sans" >1</text><text x="61.80" y="107.60" font-size="6.0" text-anchor="middle" font-weight="bold" fill="#000" font-family="Liberation Sans" >2</text><text x="78.10" y="107.60" font-size="6.0" text-anchor="middle" font-weight="bold" fill="#000" font-family="Liberation Sans" >3</text><text x="94.50" y="107.60" font-size="6.0" text-anchor="middle" font-weight="bold" fill="#000" font-family="Liberation Sans" >4</text><text x="110.40" y="107.60" font-size="6.0" text-anchor="middle" font-weight="bold" fill="#000" font-family="Liberation Sans" >5</text><text x="3.90" y="23.90" font-size="5.2" text-anchor="start" font-weight="bold" fill="#000" font-family="Liberation Sans" >Price</text><text x="76.00" y="113.10" font-size="5.2" text-anchor="middle" font-weight="bold" fill="#000" font-family="Liberation Sans" >Quantity of Parks</text><line x1="30.40" y1="42.90" x2="62.40" y2="42.90" stroke="#666" stroke-width="0.6" stroke-dasharray="2 1.6"/><line x1="62.40" y1="42.90" x2="62.40" y2="101.10" stroke="#666" stroke-width="0.6" stroke-dasharray="2 1.6"/><line x1="30.40" y1="74.20" x2="93.60" y2="74.20" stroke="#666" stroke-width="0.6" stroke-dasharray="2 1.6"/><line x1="93.60" y1="74.20" x2="93.60" y2="101.10" stroke="#666" stroke-width="0.6" stroke-dasharray="2 1.6"/><line x1="47.30" y1="27.40" x2="106.50" y2="86.60" stroke="#000" stroke-width="1.4" /><line x1="103.40" y1="56.20" x2="92.50" y2="66.60" stroke="#000" stroke-width="0.9" /><polygon points="89.60,69.50 91.00,64.20 94.60,67.60" fill="#000" /><text x="104.20" y="29.60" font-size="6.2" text-anchor="middle" font-weight="bold" fill="#111" font-family="Liberation Serif" >The Demand is</text><text x="104.20" y="37.50" font-size="6.2" text-anchor="middle" font-weight="bold" fill="#111" font-family="Liberation Serif" >equal to the</text><text x="104.20" y="45.40" font-size="6.2" text-anchor="middle" font-weight="bold" fill="#111" font-family="Liberation Serif" >marginal benefit</text><text x="104.20" y="53.30" font-size="6.2" text-anchor="middle" font-weight="bold" fill="#111" font-family="Liberation Serif" >to society</text><text x="111.30" y="93.80" font-size="5.9" text-anchor="middle" font-weight="bold" fill="#000" font-family="Liberation Sans" >D=MSB</text></g><g stroke="#000" stroke-width="1.7" fill="none"><line x1="42.60" y1="107.45" x2="693.30" y2="107.45"/><line x1="43.45" y1="106.60" x2="43.45" y2="757.30"/><line x1="42.60" y1="237.25" x2="693.30" y2="237.25"/><line x1="173.25" y1="106.60" x2="173.25" y2="757.30"/><line x1="42.60" y1="367.05" x2="693.30" y2="367.05"/><line x1="303.05" y1="106.60" x2="303.05" y2="757.30"/><line x1="42.60" y1="496.85" x2="693.30" y2="496.85"/><line x1="432.85" y1="106.60" x2="432.85" y2="757.30"/><line x1="42.60" y1="626.65" x2="693.30" y2="626.65"/><line x1="562.65" y1="106.60" x2="562.65" y2="757.30"/><line x1="42.60" y1="756.45" x2="693.30" y2="756.45"/><line x1="692.45" y1="106.60" x2="692.45" y2="757.30"/></g>
</svg>
</body></html>
